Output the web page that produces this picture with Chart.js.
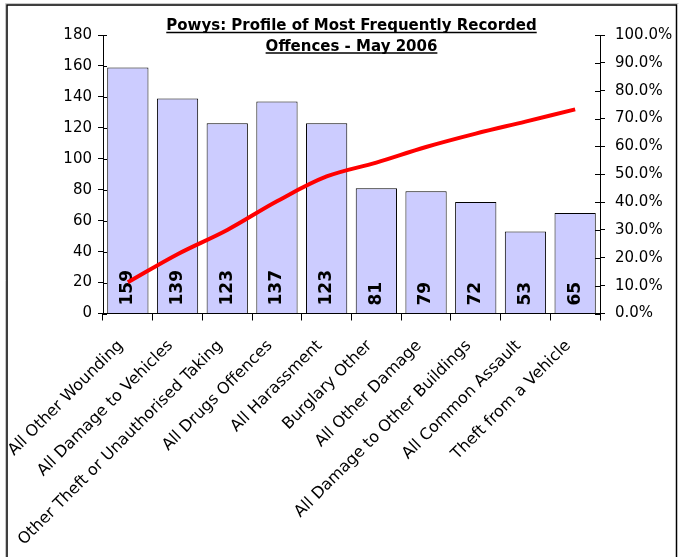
<!DOCTYPE html>
<html>
<head>
<meta charset="utf-8">
<script src="https://cdn.jsdelivr.net/npm/chart.js@4/dist/chart.umd.min.js"></script>
<style>
html,body{margin:0;padding:0;background:#fff;}
#wrap{width:685px;height:557px;position:relative;}
canvas{display:block;}
</style>
</head>
<body>
<div id="wrap"><canvas id="c" width="685" height="557"></canvas></div>
<script>
// ---- data ----
const categories = [
  'All Other Wounding',
  'All Damage to Vehicles',
  'Other Theft or Unauthorised Taking',
  'All Drugs Offences',
  'All Harassment',
  'Burglary Other',
  'All Other Damage',
  'All Damage to Other Buildings',
  'All Common Assault',
  'Theft from a Vehicle'
];
const offenceCounts = [159, 139, 123, 137, 123, 81, 79, 72, 53, 65];
const cumulativePercent = [11.2, 21.3, 30.0, 40.3, 49.2, 54.2, 59.8, 64.6, 68.9, 73.3];
const countAxisTicks = [0, 20, 40, 60, 80, 100, 120, 140, 160, 180];
const percentAxisTicks = [0, 10, 20, 30, 40, 50, 60, 70, 80, 90, 100];
const titleLines = ['Powys: Profile of Most Frequently Recorded', 'Offences - May 2006'];

const FONT = 'DejaVu Sans';

const framePlugin = {
  id: 'frame',
  beforeDraw(chart) {
    const ctx = chart.ctx;
    ctx.save();
    ctx.fillStyle = '#fff';
    ctx.fillRect(0, 0, chart.width, chart.height);
    ctx.strokeStyle = '#c8c8c8';
    ctx.lineWidth = 1;
    ctx.beginPath();
    ctx.moveTo(5.5, 620); ctx.lineTo(5.5, 3.5); ctx.lineTo(678.5, 3.5);
    ctx.stroke();
    ctx.strokeStyle = '#000';
    ctx.lineWidth = 1.5;
    ctx.strokeRect(7, 5, 669.5, 620);
    ctx.restore();
  }
};

const titlePlugin = {
  id: 'ulTitle',
  afterDraw(chart) {
    const ctx = chart.ctx;
    const ca = chart.chartArea;
    const cx = (ca.left + ca.right) / 2;
    const baselines = [30, 50.5];
    ctx.save();
    ctx.font = 'bold 15px "' + FONT + '"';
    ctx.fillStyle = '#000';
    ctx.strokeStyle = '#000';
    ctx.lineWidth = 1.3;
    ctx.textAlign = 'center';
    ctx.textBaseline = 'alphabetic';
    titleLines.forEach((t, i) => {
      const w = ctx.measureText(t).width;
      ctx.fillText(t, cx, baselines[i]);
      ctx.beginPath();
      ctx.moveTo(cx - w / 2, baselines[i] + 2.5);
      ctx.lineTo(cx + w / 2, baselines[i] + 2.5);
      ctx.stroke();
    });
    ctx.restore();
  }
};

const barLabelPlugin = {
  id: 'barLabels',
  afterDatasetDraw(chart, args) {
    if (args.index !== 0) return;
    const ctx = chart.ctx;
    const meta = chart.getDatasetMeta(0);
    const y0 = chart.scales.y.getPixelForValue(0);
    ctx.save();
    ctx.font = 'bold 17px "' + FONT + '"';
    ctx.fillStyle = '#000';
    ctx.textAlign = 'left';
    ctx.textBaseline = 'middle';
    meta.data.forEach((bar, i) => {
      ctx.save();
      ctx.translate(bar.x, y0 - 8);
      ctx.rotate(-Math.PI / 2);
      ctx.fillText(String(offenceCounts[i]), 0, 0);
      ctx.restore();
    });
    ctx.restore();
  }
};

const innerTickPlugin = {
  id: 'innerTicks',
  afterDraw(chart) {
    const ctx = chart.ctx;
    const ys = chart.scales.y, y1 = chart.scales.y1;
    ctx.save();
    ctx.strokeStyle = '#000';
    ctx.lineWidth = 1;
    ctx.beginPath();
    ys.ticks.forEach(t => {
      const p = Math.round(ys.getPixelForValue(t.value)) + 0.5;
      ctx.moveTo(ys.right, p); ctx.lineTo(ys.right + 4, p);
    });
    y1.ticks.forEach(t => {
      const p = Math.round(y1.getPixelForValue(t.value)) + 0.5;
      ctx.moveTo(y1.left, p); ctx.lineTo(y1.left - 5, p);
    });
    ctx.stroke();
    ctx.restore();
  }
};

new Chart(document.getElementById('c'), {
  data: {
    labels: categories,
    datasets: [
      {
        type: 'bar',
        data: offenceCounts,
        yAxisID: 'y',
        backgroundColor: '#CCCCFF',
        borderColor: '#000',
        borderWidth: 1,
        barPercentage: 0.83,
        categoryPercentage: 1.0,
        order: 1
      },
      {
        type: 'line',
        data: cumulativePercent,
        yAxisID: 'y1',
        borderColor: '#FF0000',
        borderWidth: 4,
        pointRadius: 0,
        tension: 0.35,
        fill: false,
        order: 0
      }
    ]
  },
  options: {
    responsive: false,
    animation: false,
    devicePixelRatio: 1,
    layout: { padding: { top: 35, left: 0, right: 0, bottom: 0 } },
    plugins: { legend: { display: false }, tooltip: { enabled: false }, title: { display: false } },
    scales: {
      x: {
        offset: true,
        grid: { offset: true, drawOnChartArea: false, tickLength: 7, color: '#000' },
        border: { display: true, color: '#000', width: 1 },
        ticks: {
          autoSkip: false, minRotation: 45, maxRotation: 45, padding: 16, labelOffset: -7,
          color: '#000', font: { family: FONT, size: 16 }
        },
        afterFit(s) { s.height = 243.5; s.paddingLeft = 0; s.paddingRight = 0; }
      },
      y: {
        position: 'left',
        min: countAxisTicks[0],
        max: countAxisTicks[countAxisTicks.length - 1],
        afterBuildTicks(s) { s.ticks = countAxisTicks.map(v => ({ value: v })); },
        grid: { drawOnChartArea: false, tickLength: 5, color: '#000' },
        border: { display: true, color: '#000', width: 1 },
        ticks: { padding: 6, color: '#000', font: { family: FONT, size: 15 } },
        afterFit(s) { s.width = 103; }
      },
      y1: {
        position: 'right',
        min: percentAxisTicks[0],
        max: percentAxisTicks[percentAxisTicks.length - 1],
        afterBuildTicks(s) { s.ticks = percentAxisTicks.map(v => ({ value: v })); },
        grid: { drawOnChartArea: false, tickLength: 5, color: '#000' },
        border: { display: true, color: '#000', width: 1 },
        ticks: {
          padding: 10, color: '#000', font: { family: FONT, size: 15 },
          callback: v => Number(v).toFixed(1) + '%'
        },
        afterFit(s) { s.width = 85; }
      }
    }
  },
  plugins: [framePlugin, titlePlugin, barLabelPlugin, innerTickPlugin]
});
</script>
</body>
</html>
